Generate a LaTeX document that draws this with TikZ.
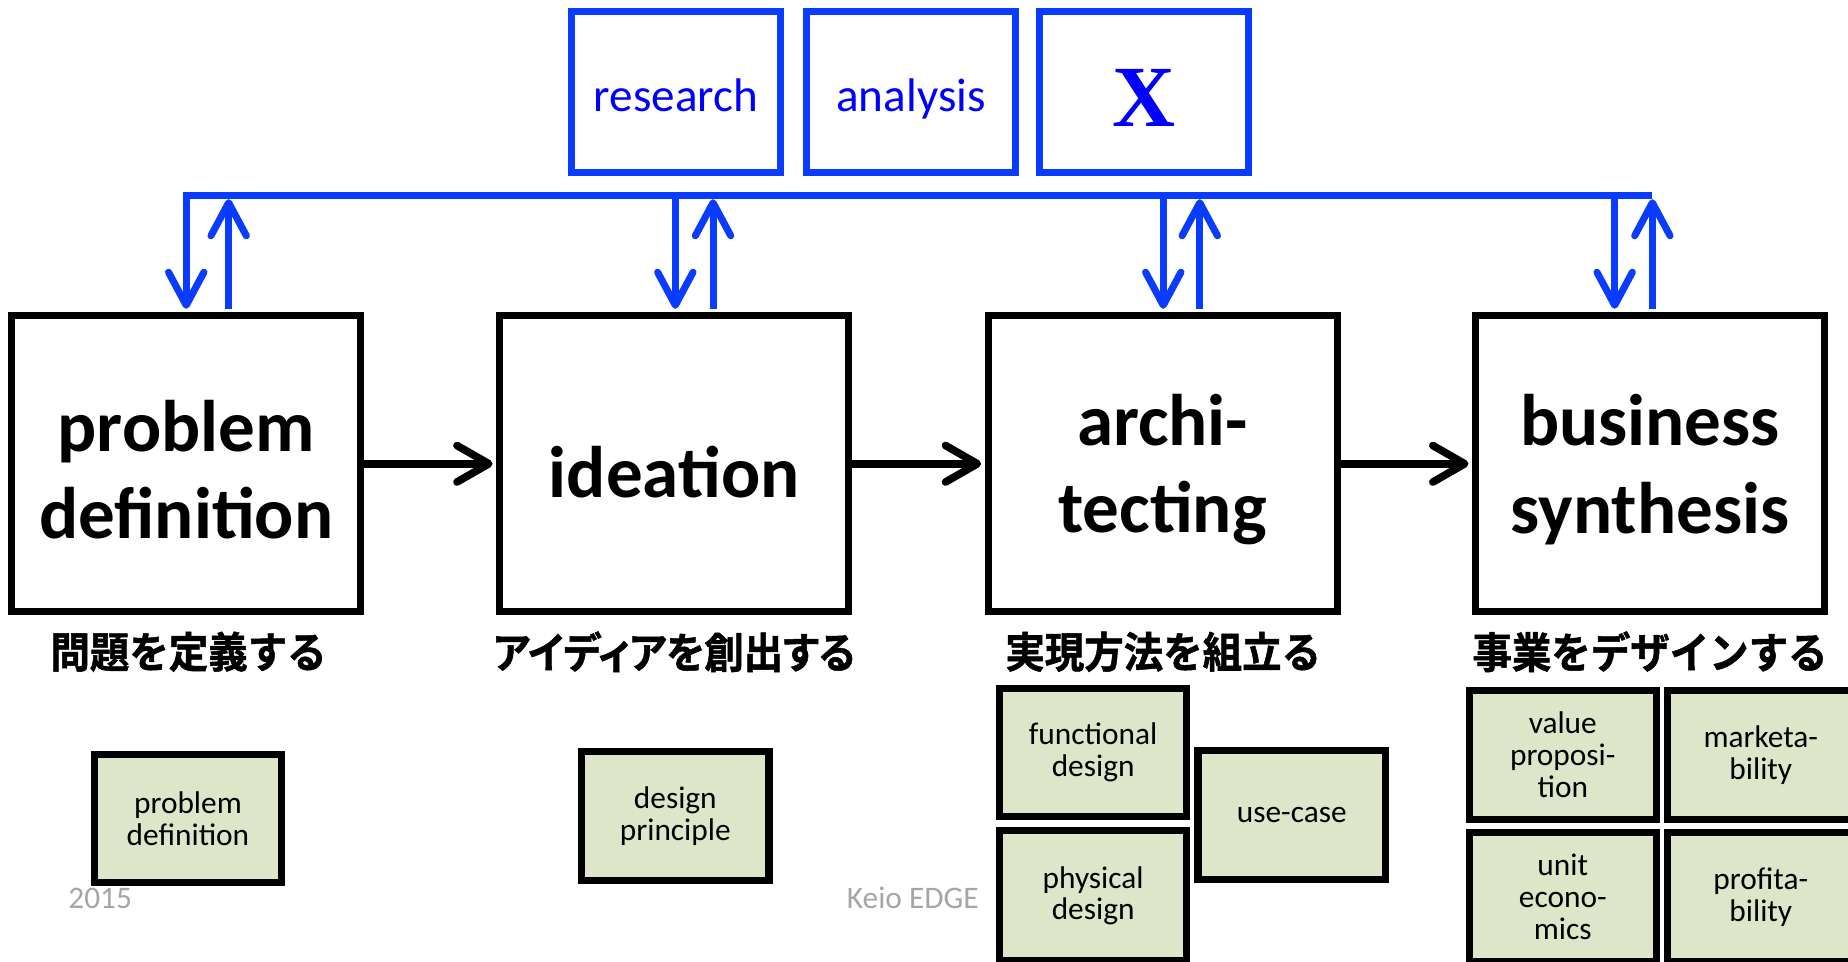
\documentclass[tikz,border=0pt]{standalone}
\usepackage{fontspec}
\setmainfont{Carlito}
\newfontfamily\jp{Noto Sans CJK JP Bold}[FakeBold=1.2,FakeStretch=0.93]
\newfontfamily\jpp{Noto Sans CJK JP Bold}[FakeBold=1.2,FakeStretch=0.93,RawFeature=+palt]
\newfontfamily\tms{Liberation Serif}
\usetikzlibrary{arrows.meta}
\definecolor{bl}{HTML}{0A3CFF}
\definecolor{bt}{HTML}{0000FF}
\definecolor{gf}{HTML}{DDE6C9}
\definecolor{gr}{HTML}{A6A6A6}
\begin{document}
\begin{tikzpicture}[x=0.5pt,y=-0.5pt,
 stage/.style={draw=black,line width=3pt,minimum width=148pt,minimum height=125.5pt,inner sep=0pt},
 stagetext/.style={inner sep=0pt,align=center,yshift=-2.5pt,font=\fontsize{31}{37}\selectfont\bfseries},
 tool/.style={draw=bl,line width=3pt,minimum width=88.5pt,minimum height=68pt,inner sep=0pt,text=bt,text height=17pt,text depth=0pt,font=\fontsize{20}{24}\selectfont},
 item/.style={draw=black,fill=gf,line width=3pt,minimum width=79.5pt,minimum height=54.5pt,inner sep=0pt,align=center,font=\fontsize{13.3}{13.5}\selectfont},
 jlab/.style={font=\jp\fontsize{18}{20}\selectfont},
 foot/.style={text=gr,font=\fontsize{13.3}{16}\selectfont},
 barrow/.style={draw=bl,line width=3pt,-{Straight Barb[length=14pt,width=15pt,round]}},
 karrow/.style={draw=black,line width=3.25pt,-{Straight Barb[length=13.5pt,width=15.5pt,round]}},
]
\useasboundingbox (0,0) rectangle (1568,816);
\fill[white] (0,0) rectangle (1568,816);

% tool boxes
\node[tool] (t1) at (573.5,78) {research};
\node[tool] (t2) at (773,78) {analysis};
\node[tool,text height=29pt,font=\tms\bfseries\fontsize{37}{40}\selectfont] (t3) at (970.5,78) {X};

% stage boxes
\node[stage] (p1) at (158,393.5) {};
\node[stage] (p2) at (572,393.5) {};
\node[stage] (p3) at (986.5,393.5) {};
\node[stage] (p4) at (1400,393.5) {};
\node[stagetext] (p1t) at (p1.center) {problem\\definition};
\node[stagetext,yshift=-1pt] (p2t) at (p2.center) {ideation};
\node[stagetext] (p3t) at (p3.center) {archi-\\tecting};
\node[stagetext] (p4t) at (p4.center) {business\\synthesis};

% Japanese labels
\node[jlab] (j1) at (160,553) {問題を定義する};
\node[jlab,font=\jpp\fontsize{18}{20}\selectfont] (j2) at (572,553) {アイディアを創出する};
\node[jlab] (j3) at (987,553) {実現方法を組立る};
\node[jlab] (j4) at (1400,553) {事業をデザインする};

% green items
\node[item] (g1) at (159.5,694.5) {problem\\definition};
\node[item] (g2) at (573,692.5) {design\\principle};
\node[item] (g3) at (927.5,638.5) {functional\\design};
\node[item] (g4) at (1096,691.5) {use-case};
\node[item,minimum height=55pt] (g5) at (927.5,760) {physical\\design};
\node[item] (g6) at (1326,640.5) {value\\proposi-\\tion};
\node[item] (g7) at (1494,640.5) {marketa-\\bility};
\node[item,minimum height=55pt] (g8) at (1326,761) {unit\\econo-\\mics};
\node[item,minimum height=55pt] (g9) at (1494,761) {profita-\\bility};

% footer
\node[foot] (f1) at (85,762) {2015};
\node[foot] (f2) at (774.5,762) {Keio EDGE};

% bus coordinates
\coordinate (d1) at (158,166);
\coordinate (u1) at (194,166);
\coordinate (d2) at (573,166);
\coordinate (u2) at (605,166);
\coordinate (d3) at (987,166);
\coordinate (u3) at (1018,166);
\coordinate (d4) at (1370,166);
\coordinate (u4) at (1402,166);

% bus with first down arrow
\draw[barrow,line join=miter] (u4) -- (d1) -- ([yshift=1.5pt]d1 |- p1.north);
\draw[barrow] ([yshift=1.5pt]u1 |- p1.north) -- ([yshift=-1.5pt]u1);
\draw[barrow] (d2) -- ([yshift=1.5pt]d2 |- p2.north);
\draw[barrow] ([yshift=1.5pt]u2 |- p2.north) -- ([yshift=-1.5pt]u2);
\draw[barrow] (d3) -- ([yshift=1.5pt]d3 |- p3.north);
\draw[barrow] ([yshift=1.5pt]u3 |- p3.north) -- ([yshift=-1.5pt]u3);
\draw[barrow] (d4) -- ([yshift=1.5pt]d4 |- p4.north);
\draw[barrow] ([yshift=1.5pt]u4 |- p4.north) -- ([yshift=-1.5pt]u4);

% flow arrows
\draw[karrow] (p1.east) -- ([xshift=-1.5pt]p2.west);
\draw[karrow] (p2.east) -- ([xshift=-1.5pt]p3.west);
\draw[karrow] (p3.east) -- ([xshift=-1.5pt]p4.west);
\end{tikzpicture}
\end{document}
